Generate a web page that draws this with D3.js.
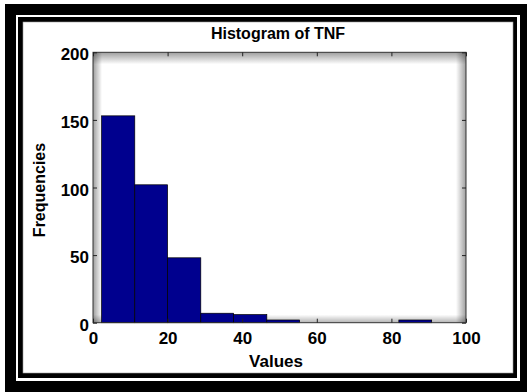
<!DOCTYPE html>
<html>
<head>
<meta charset="utf-8">
<script src="https://cdn.jsdelivr.net/npm/d3@7"></script>
<style>
  html, body { margin: 0; padding: 0; background: #fff; }
  svg { display: block; }
  text { font-family: "Liberation Sans", Arial, sans-serif; font-weight: bold; fill: #000; }
</style>
</head>
<body>
<svg id="chart" width="527" height="392"></svg>
<script>
// Histogram bin edges (TNF values) and counts per bin
const binEdges = [2.3, 11.2, 20.0, 28.9, 37.7, 46.6, 55.4, 64.3, 73.1, 82.0, 90.8];
const binCounts = [153, 102, 48, 7, 6, 2, 0, 0, 0, 2];
const xTicks = [0, 20, 40, 60, 80, 100];
const yTicks = [0, 50, 100, 150, 200];
const titleText = "Histogram of TNF";
const xLabel = "Values";
const yLabel = "Frequencies";

const svg = d3.select("#chart");
const W = 527, H = 392;

// Double picture frame
svg.append("rect").attr("x", 5).attr("y", 4).attr("width", W - 5).attr("height", H - 4).attr("fill", "#000");
svg.append("rect").attr("x", 16).attr("y", 15).attr("width", 504).attr("height", 366).attr("fill", "#fff");
svg.append("rect").attr("x", 18).attr("y", 17).attr("width", 499).attr("height", 361).attr("fill", "#000");
svg.append("rect").attr("x", 23).attr("y", 22).attr("width", 490).attr("height", 351).attr("fill", "#fff")
  .attr("stroke", "#999").attr("stroke-width", 0.6);

// Plot area
const plot = { left: 93, right: 466, top: 52.3, bottom: 322.7 };
const x = d3.scaleLinear().domain([0, 100]).range([plot.left, plot.right]);
const y = d3.scaleLinear().domain([0, 200]).range([plot.bottom, plot.top]);

// Soft inner shade along the axes box edges
const defs = svg.append("defs");
function grad(id, x1, y1, x2, y2, op) {
  const g = defs.append("linearGradient").attr("id", id)
    .attr("x1", x1).attr("y1", y1).attr("x2", x2).attr("y2", y2);
  g.append("stop").attr("offset", "0%").attr("stop-color", "#000").attr("stop-opacity", op);
  g.append("stop").attr("offset", "100%").attr("stop-color", "#000").attr("stop-opacity", 0);
}
grad("shL", "0%", "0%", "100%", "0%", 0.38);
grad("shR", "100%", "0%", "0%", "0%", 0.38);
grad("shT", "0%", "0%", "0%", "100%", 0.38);
grad("shB", "0%", "100%", "0%", "0%", 0.3);
const pw = plot.right - plot.left, ph = plot.bottom - plot.top;
svg.append("rect").attr("x", plot.left).attr("y", plot.top).attr("width", 9).attr("height", ph).attr("fill", "url(#shL)");
svg.append("rect").attr("x", plot.right - 10).attr("y", plot.top).attr("width", 10).attr("height", ph).attr("fill", "url(#shR)");
svg.append("rect").attr("x", plot.left).attr("y", plot.top).attr("width", pw).attr("height", 12).attr("fill", "url(#shT)");
svg.append("rect").attr("x", plot.left).attr("y", plot.bottom - 8).attr("width", pw).attr("height", 8).attr("fill", "url(#shB)");

// Bars
const bins = binCounts.map((c, i) => ({ x0: binEdges[i], x1: binEdges[i + 1], count: c }));
svg.append("g").selectAll("rect").data(bins.filter(d => d.count > 0)).join("rect")
  .attr("x", d => x(d.x0))
  .attr("y", d => y(d.count))
  .attr("width", d => x(d.x1) - x(d.x0))
  .attr("height", d => y(0) - y(d.count))
  .attr("fill", "#00008e")
  .attr("stroke", "#000")
  .attr("stroke-width", 0.7);

// Axes box
svg.append("rect").attr("x", plot.left).attr("y", plot.top).attr("width", pw).attr("height", ph)
  .attr("fill", "none").attr("stroke", "#333").attr("stroke-width", 1);

// Axes with inward ticks
const fontSize = 17;
const gx = svg.append("g").attr("transform", `translate(0,${plot.bottom})`)
  .call(d3.axisBottom(x).tickValues(xTicks).tickSizeInner(-4).tickSizeOuter(0).tickPadding(9));
const gxTop = svg.append("g").attr("transform", `translate(0,${plot.top})`)
  .call(d3.axisTop(x).tickValues(xTicks).tickSizeInner(-4).tickSizeOuter(0).tickFormat(""));
const gy = svg.append("g").attr("transform", `translate(${plot.left},0)`)
  .call(d3.axisLeft(y).tickValues(yTicks).tickSizeInner(-4).tickSizeOuter(0).tickPadding(4));
const gyR = svg.append("g").attr("transform", `translate(${plot.right},0)`)
  .call(d3.axisRight(y).tickValues(yTicks).tickSizeInner(-4).tickSizeOuter(0).tickFormat(""));

[gx, gxTop, gy, gyR].forEach(g => {
  g.select(".domain").remove();
  g.selectAll("line").attr("stroke", "#222").attr("stroke-width", 1);
  g.selectAll("text").style("font-size", fontSize + "px").style("font-weight", "bold")
    .style("font-family", '"Liberation Sans", Arial, sans-serif').attr("fill", "#000");
});
gy.selectAll("text").attr("dy", "0.45em");

// Title and axis labels
svg.append("text").attr("x", 278).attr("y", 39).attr("text-anchor", "middle")
  .style("font-size", "16px").text(titleText);
svg.append("text").attr("x", 276).attr("y", 367).attr("text-anchor", "middle")
  .style("font-size", "17px").text(xLabel);
svg.append("text").attr("transform", "translate(44.5,190) rotate(-90)").attr("text-anchor", "middle")
  .style("font-size", "16px").text(yLabel);
</script>
</body>
</html>
